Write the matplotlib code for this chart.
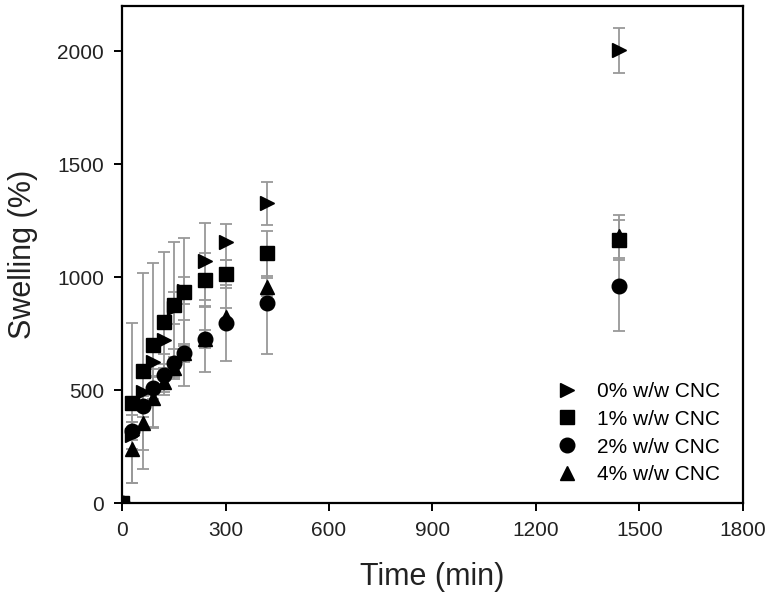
import matplotlib
matplotlib.use("Agg")
from matplotlib import pyplot as plt

plt.rcParams['font.family'] = ['Liberation Sans', 'DejaVu Sans']

# Swelling data
time_min = [0, 30, 60, 90, 120, 150, 180, 240, 300, 420, 1440]

cnc0 = [0, 300, 490, 624, 721, 863, 940, 1070, 1155, 1327, 2004]
cnc0_err = [0, 60, 80, 60, 60, 70, 60, 170, 80, 95, 100]

cnc1 = [0, 442, 584, 699, 801, 876, 934, 987, 1013, 1106, 1165]
cnc1_err = [0, 354, 434, 365, 310, 280, 238, 120, 62, 100, 90]

cnc2 = [0, 319, 429, 509, 566, 620, 663, 726, 796, 885, 960]
cnc2_err = [0, 40, 50, 50, 50, 60, 145, 146, 168, 226, 200]

cnc4 = [0, 239, 354, 465, 536, 597, 663, 726, 823, 956, 1180]
cnc4_err = [0, 150, 120, 130, 60, 50, 40, 40, 40, 40, 97]

labels = ['0% w/w CNC', '1% w/w CNC', '2% w/w CNC', '4% w/w CNC']
markers = ['>', 's', 'o', '^']

fig = plt.figure(figsize=(7.73, 6.01), dpi=100)
ax = fig.add_axes([0.158, 0.163, 0.803, 0.827])

series = [(cnc0, cnc0_err), (cnc1, cnc1_err), (cnc2, cnc2_err), (cnc4, cnc4_err)]
for (y, err), lab, m in zip(series, labels, markers):
    ax.errorbar(time_min, y, yerr=err, fmt=m, color='black', markersize=10.5,
                ecolor='#999999', elinewidth=1.3, capsize=4, capthick=1.3,
                label=lab, zorder=3)

ax.set_xlim(0, 1800)
ax.set_ylim(0, 2200)
ax.set_xticks(range(0, 1801, 300))
ax.set_yticks(range(0, 2001, 500))

for sp in ax.spines.values():
    sp.set_linewidth(1.6)
ax.tick_params(direction='out', length=6, width=1.4, labelsize=15, pad=7,
               labelcolor='#222222')

ax.set_xlabel('Time (min)', fontsize=22, labelpad=16, color='#222222')
ax.set_ylabel('Swelling (%)', fontsize=22, labelpad=14, color='#222222')

handles, labs = ax.get_legend_handles_labels()
handles = [h[0] for h in handles]
ax.legend(handles, labs, loc='lower right', frameon=False, fontsize=15,
          handletextpad=0.8, labelspacing=0.42, handlelength=1.2,
          bbox_to_anchor=(0.993, 0.0))

fig.savefig('out.png', dpi=100)
